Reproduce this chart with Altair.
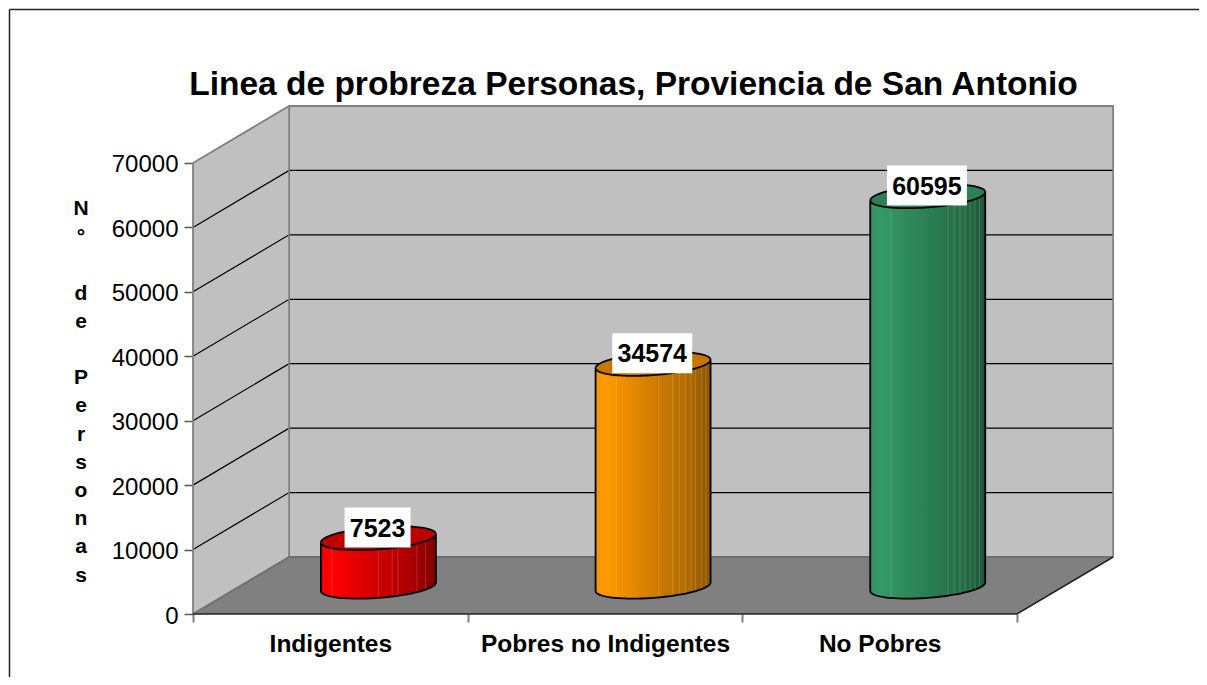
import numpy as np
import pandas as pd
import altair as alt

categories = ["Indigentes", "Pobres no Indigentes", "No Pobres"]
values = [7523, 34574, 60595]
y_ticks = [0, 10000, 20000, 30000, 40000, 50000, 60000, 70000]
title_text = "Linea de probreza Personas, Proviencia de San Antonio"
y_title = ["N", "°", "", "d", "e", "", "P", "e", "r", "s", "o", "n", "a", "s"]

top_colors = ["#BF0000", "#C77700", "#2B8055"]
stops = [
    [("#F00000", 0), ("#FF0000", 0.08), ("#E60000", 0.3), ("#C80000", 0.55), ("#A80000", 0.8), ("#800000", 1)],
    [("#F59300", 0), ("#FF9900", 0.08), ("#E88B00", 0.3), ("#CC7A00", 0.55), ("#B06A00", 0.8), ("#8F5600", 1)],
    [("#319360", 0), ("#359B68", 0.08), ("#2F8B5C", 0.3), ("#2A7C52", 0.55), ("#256C47", 0.8), ("#1E5838", 1)],
]
seams = [
    [0.095, 0.5, 0.62, 0.67, 0.835, 0.91],
    [0.18, 0.55, 0.67, 0.73, 0.78, 0.83, 0.87, 0.92, 0.96],
    [0.18, 0.675, 0.73, 0.78, 0.825, 0.87, 0.91, 0.95],
]

W, H = 1191, 669
PX_U = 274.67            # pixels per category unit
PX_V = 0.006443          # pixels per person
X0, Y0 = 193 - 8, 614 - 8
DEPTH_U, DEPTH_V = 0.35, 8847
X_DOM = [-X0 / PX_U, (W - X0) / PX_U]
Y_DOM = [(Y0 - H) / PX_V, Y0 / PX_V]
x_scale = alt.Scale(domain=X_DOM, nice=False, zero=False)
y_scale = alt.Scale(domain=Y_DOM, nice=False, zero=False)
N = len(categories)
TOPV = y_ticks[-1]

label_map = " : ".join(f"datum.value == {i + 0.5} ? '{c}'" for i, c in enumerate(categories))
base_x_axis = alt.Axis(
    values=[0, 0.5, 1, 1.5, 2, 2.5, 3], labelExpr=label_map + " : ''",
    grid=False, domain=False, offset=-(8 + H - 614), orient="bottom", title=None,
    tickSize={"condition": {"test": "datum.value % 1 == 0", "value": 8}, "value": 0},
    tickColor="#808080", tickWidth=2, labelFont="Liberation Sans", labelFontWeight="bold",
    labelFontSize=24.5, labelColor="black", labelPadding=18, labelOverlap=False, labelBound=False, labelFlush=False,
    labelLimit=500,
)
base_y_axis = alt.Axis(
    values=y_ticks, grid=False, domain=False, offset=-(193 - 8), orient="left",
    tickSize=9, tickColor="#555555", tickWidth=1.5, labelFont="Liberation Sans", labelFontSize=24,
    labelColor="black", labelPadding=6, format="d", labelOverlap=False, labelOffset=2, title=None,
)
X = alt.X("x:Q", scale=x_scale, axis=base_x_axis)
Y = alt.Y("y:Q", scale=y_scale, axis=base_y_axis)


def poly(points, color, width, order_name="o"):
    df = pd.DataFrame(points, columns=["x", "y"])
    df[order_name] = range(len(df))
    return alt.Chart(df).mark_line(color=color, strokeWidth=width, clip=True).encode(
        x=X, y=Y, order=alt.Order(f"{order_name}:Q"))


# walls and floor
left_wall = alt.Chart(pd.DataFrame({
    "x": [0, DEPTH_U], "y": [0, DEPTH_V], "y2": [TOPV, TOPV + DEPTH_V]
})).mark_area(color="#C0C0C0").encode(x=X, y=Y, y2="y2:Q")
back_wall = alt.Chart(pd.DataFrame({
    "x": [DEPTH_U], "x2": [N + DEPTH_U], "y": [DEPTH_V], "y2": [TOPV + DEPTH_V]
})).mark_rect(color="#C0C0C0").encode(x=X, x2="x2:Q", y=Y, y2="y2:Q")
floor = alt.Chart(pd.DataFrame({
    "y": [0, DEPTH_V], "x": [0, DEPTH_U], "x2": [N, N + DEPTH_U]
})).mark_area(color="#808080", orient="horizontal").encode(x=X, x2="x2:Q", y=Y)

layers = [left_wall, back_wall, floor]
for v in y_ticks[1:-1]:
    layers.append(poly([(0, v), (DEPTH_U, v + DEPTH_V), (N + DEPTH_U, v + DEPTH_V)], "#000000", 1.2))
layers += [
    poly([(0, 0), (0, TOPV), (DEPTH_U, TOPV + DEPTH_V), (N + DEPTH_U, TOPV + DEPTH_V), (N + DEPTH_U, DEPTH_V)], "#808080", 1.8),
    poly([(DEPTH_U, TOPV + DEPTH_V), (DEPTH_U, DEPTH_V)], "#808080", 1.8),
    poly([(0, 0), (DEPTH_U, DEPTH_V), (N + DEPTH_U, DEPTH_V)], "#707070", 1.8),
    poly([(0, 0), (N, 0), (N + DEPTH_U, DEPTH_V)], "#222222", 1.6),
]

# cylinders
K = 0.21
P_U, Q_V = K * DEPTH_U, K * DEPTH_V
W_U = 0.196
R_U = float(np.hypot(W_U, P_U))
DELTA = float(np.arctan2(P_U, W_U))
BASE_V = DEPTH_V / 2 - 180
phi = np.linspace(0, np.pi, 61)
xs = R_U * np.cos(phi)
upper = Q_V * np.sin(phi + DELTA)
lower = Q_V * np.sin(-phi + DELTA)

for i, (v, tc, st) in enumerate(zip(values, top_colors, stops)):
    cx = i + 0.5 + DEPTH_U / 2
    body = pd.DataFrame({"x": cx + xs, "y": BASE_V + lower, "y2": BASE_V + v + lower})
    grad = alt.Gradient(gradient="linear", x1=0, x2=1, y1=0, y2=0,
                        stops=[alt.GradientStop(color=c, offset=o) for c, o in st])
    layers.append(alt.Chart(body).mark_area(color=grad).encode(x=X, y=Y, y2="y2:Q"))
    # faint facet seams
    rows = []
    for s in seams[i]:
        a = float(np.arccos(1 - 2 * s))
        xr = -R_U * np.cos(a)
        lo = Q_V * np.sin(-(np.pi - a) + DELTA)
        rows.append({"x": cx + xr, "y": BASE_V + lo, "y2": BASE_V + v + lo})
    layers.append(alt.Chart(pd.DataFrame(rows)).mark_rule(color="#FFFFFF", opacity=0.16, strokeWidth=1).encode(x=X, y=Y, y2="y2:Q"))
    cap = pd.DataFrame({"x": cx + xs, "y": BASE_V + v + upper, "y2": BASE_V + v + lower})
    layers.append(alt.Chart(cap).mark_area(color=tc).encode(x=X, y=Y, y2="y2:Q"))
    pts = []
    pts += [(cx + a, BASE_V + v + b) for a, b in zip(xs[::-1], upper[::-1])]
    pts += [(cx + a, BASE_V + v + b) for a, b in zip(xs, upper)]
    pts += [(cx + a, BASE_V + v + b) for a, b in zip(xs[::-1], lower[::-1])]
    pts += [(cx + a, BASE_V + b) for a, b in zip(xs, lower)]
    pts += [(cx + xs[-1], BASE_V + v + lower[-1])]
    layers.append(poly(pts, "#000000", 1.8))

# value labels
label_df = pd.DataFrame({
    "x": [i + 0.5 + DEPTH_U / 2 - 0.003 for i in range(N)],
    "v": values,
    "y": [BASE_V + v + 1650 for v in values],
})
label_df["hw"] = [(14 * len(str(v)) + 10) / 2 / PX_U for v in values]
label_df["x1"] = label_df.x - label_df.hw
label_df["x2"] = label_df.x + label_df.hw
label_df["y1"] = label_df.y - 20 / PX_V
label_df["y2"] = label_df.y + 20 / PX_V
layers.append(alt.Chart(label_df).mark_rect(color="white").encode(
    x=alt.X("x1:Q", scale=x_scale, axis=base_x_axis), x2="x2:Q",
    y=alt.Y("y1:Q", scale=y_scale, axis=base_y_axis), y2="y2:Q"))
layers.append(alt.Chart(label_df).mark_text(
    font="Liberation Sans", fontWeight="bold", fontSize=25, color="black", baseline="middle", align="center", dy=1
).encode(x=X, y=Y, text=alt.Text("v:Q", format="d")))

# vertical axis title, one letter per row (blank rows kept as gaps)
title_df = pd.DataFrame({"t": y_title, "row": range(len(y_title))})
title_df = title_df[title_df.t != ""]
title_df["x"] = (81 - 193) / PX_U
title_df["y"] = (614 - (215 + 28.2 * title_df.row)) / PX_V
layers.append(alt.Chart(title_df).mark_text(
    font="Liberation Sans", fontWeight="bold", fontSize=21, color="black", baseline="alphabetic", align="center"
).encode(x=X, y=Y, text="t:N"))

# chart frame (top and left edges only)
layers.append(alt.Chart(pd.DataFrame({"a": [0]})).mark_rule(color="#222222", strokeWidth=1.5).encode(
    x=alt.value(1.5), y=alt.value(1.5), y2=alt.value(H)))
layers.append(alt.Chart(pd.DataFrame({"a": [0]})).mark_rule(color="#222222", strokeWidth=1.5).encode(
    x=alt.value(1.5), x2=alt.value(W), y=alt.value(1.5)))

chart = alt.layer(*layers).properties(
    width=W, height=H, padding=0, autosize=alt.AutoSizeParams(type="none"),
    background="white",
    title=alt.TitleParams(text=title_text, font="Liberation Sans", fontSize=33.5, fontWeight="bold",
                          color="black", anchor="middle", dx=(633.5 - 8 - W / 2), dy=94, offset=0),
).configure_view(stroke=None)

chart.save("out.html", embed_options={"renderer": "svg", "actions": False})
